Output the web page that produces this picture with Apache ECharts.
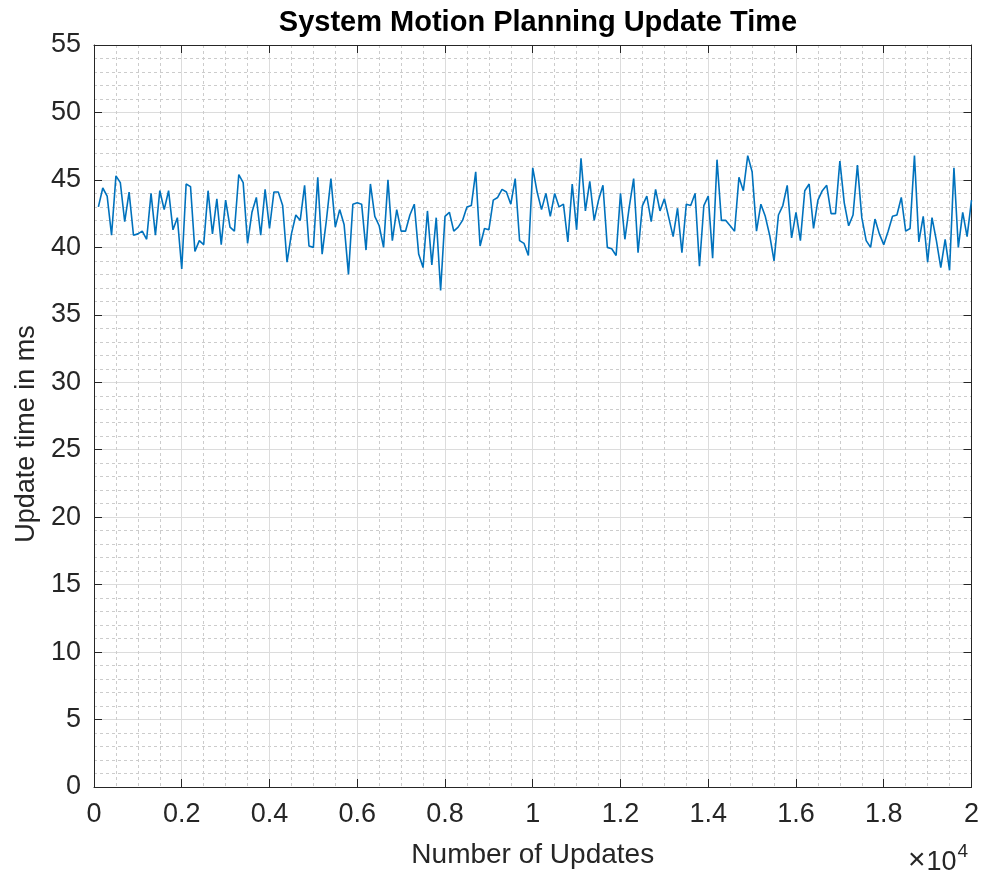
<!DOCTYPE html>
<html>
<head>
<meta charset="utf-8">
<script src="https://cdn.jsdelivr.net/npm/echarts@6/dist/echarts.min.js"></script>
<style>html,body{margin:0;padding:0;background:#fff;}#c{width:982px;height:877px;}</style>
</head>
<body>
<div id="c"></div>
<script>
// Sample step (updates per sample) and measured update times in ms
const sampleStep = 100;
const updateTimes = [
43.0,44.4,43.8,40.9,45.3,44.8,41.9,44.1,40.9,41.0,
41.2,40.6,44.0,40.9,44.2,42.8,44.2,41.3,42.2,38.4,
44.7,44.5,39.7,40.5,40.2,44.2,41.0,43.6,40.2,43.5,
41.5,41.2,45.4,44.8,40.3,42.6,43.7,40.9,44.3,41.4,
44.1,44.1,43.1,38.9,41.0,42.4,42.0,44.6,40.1,40.0,
45.2,39.5,42.1,45.1,41.5,42.8,41.7,38.0,43.2,43.3,
43.2,39.8,44.7,42.3,41.6,40.0,45.0,40.5,42.8,41.2,
41.2,42.4,43.2,39.5,38.5,42.7,38.7,42.2,36.8,42.3,
42.6,41.2,41.5,42.0,43.0,43.1,45.6,40.1,41.4,41.3,
43.5,43.7,44.3,44.1,43.2,45.1,40.5,40.3,39.4,45.9,
44.1,42.8,44.0,42.3,44.0,43.0,43.2,40.4,44.7,41.3,
46.6,42.7,44.9,42.0,43.5,44.6,40.0,39.9,39.4,44.0,
40.6,43.0,45.1,39.6,43.1,43.8,41.9,44.3,42.7,43.6,
42.2,40.8,42.9,39.6,43.2,43.1,44.0,38.6,43.1,43.8,
39.2,46.5,42.0,42.0,41.6,41.2,45.2,44.2,46.8,45.6,
41.2,43.2,42.3,40.9,39.0,42.4,43.1,44.6,40.7,42.6,
40.5,44.2,44.7,41.4,43.5,44.2,44.6,42.5,42.5,46.4,
43.3,41.6,42.4,46.1,42.2,40.5,40.0,42.1,41.0,40.2,
41.2,42.3,42.4,43.7,41.2,41.4,46.8,40.4,42.3,38.9,
42.2,40.5,38.5,40.6,38.3,45.9,40.0,42.6,40.8,43.5
];
const xTicks = [0,0.2,0.4,0.6,0.8,1,1.2,1.4,1.6,1.8,2];
const yTicks = [0,5,10,15,20,25,30,35,40,45,50,55];

const seriesData = updateTimes.map((v, i) => [(i + 1) * sampleStep, v]);

const FONT = '"Liberation Sans", Arial, Helvetica, sans-serif';
const TXT = '#262626';
const majorGrid = {show: true, lineStyle: {color: '#dcdcdc', width: 1, type: 'solid'}};
const minorGrid = {show: true, lineStyle: {color: '#cccccc', width: 1, type: [3, 3]}};

const chart = echarts.init(document.getElementById('c'), null, {renderer: 'canvas'});
chart.setOption({
  backgroundColor: '#fff',
  animation: false,
  title: {
    text: 'System Motion Planning Update Time',
    left: 533, top: 3, textAlign: 'center',
    textStyle: {fontFamily: FONT, fontSize: 29, fontWeight: 'bold', color: '#000'}
  },
  grid: {left: 94, right: 10, top: 45, bottom: 90, containLabel: false},
  xAxis: [{
    type: 'value', min: 0, max: 20000, interval: 2000,
    name: 'Number of Updates', nameLocation: 'middle', nameGap: 54,
    nameTextStyle: {fontFamily: FONT, fontSize: 28, color: TXT},
    axisLine: {show: true, onZero: false, lineStyle: {color: TXT, width: 1}},
    axisTick: {show: true, inside: true, length: 8, lineStyle: {color: TXT}},
    minorTick: {show: false, splitNumber: 4},
    axisLabel: {fontFamily: FONT, fontSize: 27, color: TXT, margin: 14,
      formatter: v => String(xTicks[Math.round(v / 2000)])},
    splitLine: majorGrid,
    minorSplitLine: minorGrid
  }, {
    type: 'value', position: 'top', min: 0, max: 20000, interval: 2000,
    axisLine: {show: true, onZero: false, lineStyle: {color: TXT, width: 1}},
    axisTick: {show: true, inside: true, length: 8, lineStyle: {color: TXT}},
    axisLabel: {show: false}, splitLine: {show: false}
  }],
  yAxis: [{
    type: 'value', min: 0, max: 55, interval: 5,
    name: 'Update time in ms', nameLocation: 'middle', nameGap: 52,
    nameTextStyle: {fontFamily: FONT, fontSize: 27, color: TXT, padding: [0, 36, 0, 0]},
    axisLine: {show: true, onZero: false, lineStyle: {color: TXT, width: 1}},
    axisTick: {show: true, inside: true, length: 8, lineStyle: {color: TXT}},
    minorTick: {show: false, splitNumber: 5},
    axisLabel: {fontFamily: FONT, fontSize: 27, color: TXT, margin: 13,
      formatter: v => String(yTicks[Math.round(v / 5)])},
    splitLine: majorGrid,
    minorSplitLine: minorGrid
  }, {
    type: 'value', position: 'right', min: 0, max: 55, interval: 5,
    axisLine: {show: true, onZero: false, lineStyle: {color: TXT, width: 1}},
    axisTick: {show: true, inside: true, length: 8, lineStyle: {color: TXT}},
    axisLabel: {show: false}, splitLine: {show: false}
  }],
  graphic: [{
    type: 'text', left: 908, top: 838,
    style: {
      text: '{x|×}{a|10}{b|4}',
      rich: {
        x: {fontFamily: FONT, fontSize: 30, fill: TXT, verticalAlign: 'bottom', lineHeight: 34, padding: [8, 1, 0, 0]},
        a: {fontFamily: FONT, fontSize: 27, fill: TXT, verticalAlign: 'bottom', lineHeight: 34, padding: [10, 0, 0, 0]},
        b: {fontFamily: FONT, fontSize: 19, fill: TXT, verticalAlign: 'top', lineHeight: 34, padding: [0, 0, 14, 1]}
      }
    }
  }],
  series: [{
    type: 'line', xAxisIndex: 0, yAxisIndex: 0,
    data: seriesData, showSymbol: false, symbol: 'none',
    lineStyle: {color: '#0072BD', width: 1.6}
  }]
});
</script>
</body>
</html>
